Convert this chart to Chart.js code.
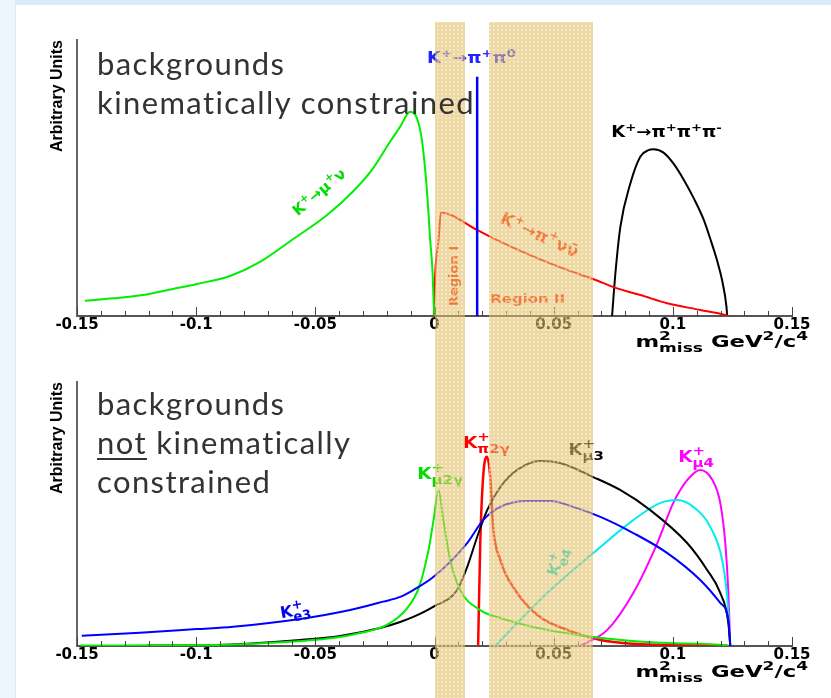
<!DOCTYPE html>
<html>
<head>
<meta charset="utf-8">
<script src="https://cdn.jsdelivr.net/npm/chart.js@4.4.1/dist/chart.umd.min.js"></script>
<style>
  html, body { margin: 0; padding: 0; background: #fff; }
  #page { position: relative; width: 831px; height: 698px; overflow: hidden; background: #fff; }
  .edgeTop { position: absolute; left: 0; top: 0; width: 831px; height: 5px; background: #d9ecfa; }
  .edgeLeft { position: absolute; left: 0; top: 0; width: 15px; height: 698px; background: #edf5fd; border-right: 1px solid #dde9f6; }
  canvas { position: absolute; left: 0; }
  #topChart { top: 0; }
  #bottomChart { top: 340px; }
  #bands { top: 0; pointer-events: none; }
  .note { position: absolute; left: 97px; font-family: Lato, sans-serif; font-size: 31px; line-height: 39px; color: #333; letter-spacing: 1.4px; }
  .note u { text-decoration-thickness: 2px; text-underline-offset: 4px; }
</style>
</head>
<body>
<div id="page">
  <div class="edgeTop"></div>
  <div class="edgeLeft"></div>
  <canvas id="topChart" width="831" height="360"></canvas>
  <canvas id="bottomChart" width="831" height="358"></canvas>
  <canvas id="bands" width="831" height="698"></canvas>
  <div class="note" style="top:44px">backgrounds<br>kinematically constrained</div>
  <div class="note" style="top:384px">backgrounds<br><u>not</u> kinematically<br>constrained</div>
</div>
<script>
// axis
const tickLabels = ['-0.15', '-0.1', '-0.05', '0', '0.05', '0.1', '0.15']
const regionI = [0.0003, 0.0128]
const regionII = [0.023, 0.0665]

// top panel : [m2miss, arbitrary units]
const kMuNu = [[-0.1467, 0.055], [-0.1349, 0.064], [-0.1223, 0.076], [-0.1097, 0.098], [-0.0996, 0.116], [-0.0858, 0.145], [-0.0732, 0.196], [-0.0594, 0.278], [-0.0452, 0.365], [-0.0341, 0.452], [-0.0258, 0.535], [-0.0186, 0.632], [-0.0144, 0.686], [-0.0102, 0.74], [-0.0074, 0.717], [-0.0053, 0.638], [-0.0032, 0.457], [-0.0018, 0.275], [-0.0008, 0.156], [-0.0004, 0.058], [0, 0]]
const kPiPi0 = [[0.0179, 0], [0.0179, 0.867]]
const kPiNuNu = [[-0.0003, 0], [0.0003, 0.156], [0.0017, 0.275], [0.0027, 0.374], [0.0178, 0.312], [0.0234, 0.287], [0.0416, 0.215], [0.0556, 0.167], [0.0668, 0.133], [0.0766, 0.1], [0.0864, 0.076], [0.0976, 0.046], [0.1115, 0.022], [0.122, 0.004], [0.1233, 0]]
const k3Pi = [[0.0745, 0], [0.0759, 0.155], [0.078, 0.324], [0.0822, 0.481], [0.0864, 0.578], [0.0898, 0.601], [0.0919, 0.604], [0.0961, 0.592], [0.1003, 0.552], [0.1045, 0.495], [0.1087, 0.428], [0.1129, 0.35], [0.1157, 0.28], [0.1186, 0.2], [0.1207, 0.128], [0.1225, 0.034], [0.1228, 0]]

// bottom panel
const kE3 = [[-0.148, 0.039], [-0.1236, 0.05], [-0.0997, 0.064], [-0.0845, 0.073], [-0.0564, 0.102], [-0.0354, 0.136], [-0.0215, 0.168], [-0.0144, 0.186], [-0.0089, 0.212], [-0.0005, 0.261], [0.0137, 0.39], [0.0204, 0.477], [0.0276, 0.527], [0.0389, 0.549], [0.0486, 0.549], [0.0582, 0.527], [0.0696, 0.489], [0.0834, 0.428], [0.0977, 0.352], [0.1115, 0.25], [0.1199, 0.163], [0.1233, 0.098], [0.1241, 0]]
const kMu3 = [[-0.1207, 0.002], [-0.0914, 0.004], [-0.0564, 0.023], [-0.0396, 0.038], [-0.0228, 0.068], [-0.0144, 0.091], [-0.0089, 0.11], [-0.0004, 0.149], [0.0095, 0.212], [0.0137, 0.299], [0.0179, 0.413], [0.0221, 0.515], [0.0276, 0.602], [0.0347, 0.667], [0.0443, 0.701], [0.0527, 0.693], [0.0666, 0.64], [0.0779, 0.591], [0.0905, 0.515], [0.106, 0.39], [0.1144, 0.288], [0.1199, 0.201], [0.1233, 0.087], [0.1241, 0]]
const kMu2G = [[-0.1487, 0.002], [-0.0913, 0.004], [-0.0703, 0.011], [-0.0426, 0.03], [-0.0312, 0.049], [-0.02, 0.08], [-0.0116, 0.142], [-0.0066, 0.22], [-0.0025, 0.364], [-0.0004, 0.477], [0.0017, 0.591], [0.0037, 0.477], [0.0066, 0.326], [0.0108, 0.212], [0.0192, 0.136], [0.0276, 0.106], [0.0414, 0.072], [0.0666, 0.034], [0.0976, 0.011], [0.1228, 0.002], [0.1233, 0]]
const kPi2G = [[0.0183, 0], [0.0192, 0.39], [0.0204, 0.64], [0.022, 0.717], [0.0234, 0.64], [0.0246, 0.451], [0.0276, 0.326], [0.0347, 0.201], [0.0443, 0.11], [0.0557, 0.061], [0.0696, 0.023], [0.0976, 0.004], [0.1228, 0.001], [0.1233, 0]]
const kE4 = [[0.0255, 0], [0.0347, 0.087], [0.0486, 0.212], [0.0666, 0.352], [0.0834, 0.477], [0.0948, 0.542], [0.1019, 0.553], [0.1086, 0.527], [0.1157, 0.451], [0.1207, 0.326], [0.1228, 0.186], [0.1241, 0]]
const kMu4 = [[0.0612, 0], [0.0725, 0.061], [0.0834, 0.201], [0.0935, 0.39], [0.1002, 0.542], [0.1061, 0.629], [0.1115, 0.667], [0.1166, 0.629], [0.1199, 0.542], [0.122, 0.39], [0.1233, 0.201], [0.1241, 0]]

const FAM = '"DejaVu Sans", sans-serif'
const xTitle = [['m', 'n'], ['2', 'up'], ['miss', 'sub'], [' GeV', 'n'], ['2', 'sup'], ['/c', 'n'], ['4', 'sup']]

// text with super/subscripts, drawn straight on the canvas
function drawRich(ctx, parts, x, y, o) {
  const size = o.size || 15
  const small = Math.round(size * (o.small || 0.72))
  const items = []
  let cx = 0
  let hold = 0
  for (const [t, k] of parts) {
    if (hold && k !== 'sub') { cx += hold; hold = 0 }
    const fs = k === 'n' ? size : small
    ctx.font = `bold ${fs}px ${FAM}`
    const w = ctx.measureText(t).width
    const dy = (k === 'sup' || k === 'up') ? -size * 0.42 : k === 'sub' ? size * 0.32 : 0
    items.push({ t, fs, px: cx, dy })
    if (k === 'up') hold = w
    else if (k === 'sub' && hold) { cx += Math.max(w, hold); hold = 0 }
    else cx += w
  }
  cx += hold
  const off = o.align === 'center' ? -cx / 2 : o.align === 'right' ? -cx : 0
  ctx.save()
  ctx.translate(x, y)
  if (o.rot) ctx.rotate(o.rot * Math.PI / 180)
  ctx.scale(o.sx || 1, 1)
  ctx.fillStyle = o.color || '#000'
  ctx.textAlign = 'left'
  ctx.textBaseline = 'alphabetic'
  for (const it of items) {
    ctx.font = `bold ${it.fs}px ${FAM}`
    ctx.fillText(it.t, off + it.px, it.dy)
  }
  ctx.restore()
}

// ROOT style frame: ticks inside, axis title, labels
const frame = {
  id: 'frame',
  afterDraw(chart, args, opts) {
    const { ctx, chartArea: a, scales: { x, y } } = chart
    ctx.save()
    ctx.strokeStyle = '#444'
    ctx.lineWidth = 1
    for (let i = -15; i <= 15; i++) {
      const px = Math.round(x.getPixelForValue(i / 100)) + 0.5
      const len = i % 5 === 0 ? 9 : 5
      ctx.beginPath()
      ctx.moveTo(px, a.bottom)
      ctx.lineTo(px, a.bottom - len)
      ctx.stroke()
    }
    ctx.restore()
    drawRich(ctx, xTitle, a.right + 16, a.bottom + 31, { size: 16, align: 'right', sx: 1.42 })
    for (const n of opts.notes) {
      drawRich(ctx, n.parts, x.getPixelForValue(n.x), y.getPixelForValue(n.y), n)
    }
  }
}

const line = (pts, color, width) => ({
  data: pts.map(p => ({ x: p[0], y: p[1] })),
  borderColor: color,
  borderWidth: width || 2,
  pointRadius: 0,
  fill: false,
  cubicInterpolationMode: 'monotone'
})

const panelOptions = (padding, notes) => ({
  responsive: false,
  animation: false,
  events: [],
  layout: { padding },
  plugins: { legend: { display: false }, tooltip: { enabled: false }, frame: { notes } },
  scales: {
    x: {
      type: 'linear',
      min: -0.15,
      max: 0.15,
      ticks: {
        stepSize: 0.05,
        padding: 0,
        color: '#000',
        maxRotation: 0,
        autoSkip: false,
        font: { family: 'DejaVu Sans', size: 15, weight: 'bold' },
        callback: (v, i) => tickLabels[i]
      },
      grid: { display: false, drawTicks: false },
      border: { display: true, color: '#555', width: 2 },
      afterFit: s => { s.height = 30 }
    },
    y: {
      min: 0,
      max: 1,
      ticks: { display: false },
      grid: { display: false, drawTicks: false },
      border: { display: true, color: '#666', width: 2 },
      title: {
        display: true,
        text: 'Arbitrary Units',
        align: 'end',
        color: '#000',
        font: { family: '"Liberation Sans", Arial, sans-serif', size: 16, weight: 'bold' },
        padding: { top: 11, bottom: 0 }
      },
      afterFit: s => { s.width = 40 }
    }
  }
})

const topNotes = [
  { parts: [['K', 'n'], ['+', 'sup'], ['\u2192\u03C0', 'n'], ['+', 'sup'], ['\u03C0', 'n'], ['0', 'sup']], x: -0.0031, y: 0.917, color: '#2222ff', size: 15, sx: 1.2 },
  { parts: [['K', 'n'], ['+', 'sup'], ['\u2192\u03C0', 'n'], ['+', 'sup'], ['\u03C0', 'n'], ['+', 'sup'], ['\u03C0', 'n'], ['-', 'sup']], x: 0.0742, y: 0.649, color: '#000', size: 15, sx: 1.2 },
  { parts: [['K', 'n'], ['+', 'sup'], ['\u2192\u03BC', 'n'], ['+', 'sup'], ['\u03BD', 'n']], x: -0.0471, y: 0.435, color: '#00dd00', size: 15, rot: -40, align: 'center' },
  { parts: [['K', 'n'], ['+', 'sup'], ['\u2192\u03C0', 'n'], ['+', 'sup'], ['\u03BD\u03BD\u0304', 'n']], x: 0.0431, y: 0.275, color: '#ff2000', size: 17, rot: 25, align: 'center' },
  { parts: [['Region I', 'n']], x: 0.0099, y: 0.145, color: '#ff2000', size: 13, rot: -90, align: 'center' },
  { parts: [['Region II', 'n']], x: 0.0391, y: 0.047, color: '#ff2000', size: 13, sx: 1.15, align: 'center' }
]

const bottomNotes = [
  { parts: [['K', 'n'], ['+', 'up'], ['\u03BC2\u03B3', 'sub']], x: -0.0072, y: 0.633, color: '#00dd00', size: 16, small: 0.8, sx: 1.15 },
  { parts: [['K', 'n'], ['+', 'up'], ['\u03C02\u03B3', 'sub']], x: 0.012, y: 0.75, color: '#ff0000', size: 16, small: 0.8, sx: 1.15 },
  { parts: [['K', 'n'], ['+', 'up'], ['\u03BC3', 'sub']], x: 0.0561, y: 0.723, color: '#000', size: 16, small: 0.8, sx: 1.15 },
  { parts: [['K', 'n'], ['+', 'up'], ['\u03BC4', 'sub']], x: 0.1023, y: 0.697, color: '#ff00ff', size: 16, small: 0.8, sx: 1.15 },
  { parts: [['K', 'n'], ['+', 'up'], ['e4', 'sub']], x: 0.0536, y: 0.314, color: '#00e0e0', size: 16, small: 0.8, rot: -70, align: 'center' },
  { parts: [['K', 'n'], ['+', 'up'], ['e3', 'sub']], x: -0.0581, y: 0.115, color: '#0000ee', size: 16, small: 0.8, rot: -10, align: 'center' }
]

const topChart = new Chart(document.getElementById('topChart'), {
  type: 'line',
  data: {
    datasets: [
      line(kMuNu, '#00ee00'),
      Object.assign(line(kPiPi0, '#0000ff', 2.5), { cubicInterpolationMode: 'default', tension: 0 }),
      line(kPiNuNu, '#ff0000'),
      line(k3Pi, '#000000')
    ]
  },
  options: panelOptions({ left: 37, right: 39, top: 40, bottom: 14 }, topNotes),
  plugins: [frame]
})

const bottomChart = new Chart(document.getElementById('bottomChart'), {
  type: 'line',
  data: {
    datasets: [
      line(kE3, '#0000ff'),
      line(kMu2G, '#00ee00'),
      line(kMu3, '#000000'),
      line(kE4, '#00eeee'),
      line(kMu4, '#ff00ff'),
      line(kPi2G, '#ff0000', 2.5)
    ]
  },
  options: panelOptions({ left: 37, right: 39, top: 42, bottom: 22 }, bottomNotes),
  plugins: [frame]
})

// the two shaded signal regions run over both panels
const bands = document.getElementById('bands').getContext('2d')
const tile = document.createElement('canvas')
tile.width = 4
tile.height = 4
const t = tile.getContext('2d')
t.fillStyle = 'rgba(225,190,100,0.58)'
t.fillRect(0, 0, 4, 4)
t.fillStyle = 'rgba(255,255,255,0.4)'
t.fillRect(1, 1, 2, 2)
bands.fillStyle = bands.createPattern(tile, 'repeat')
const sx = bottomChart.scales.x
for (const [a, b] of [regionI, regionII]) {
  const x0 = Math.round(sx.getPixelForValue(a))
  const x1 = Math.round(sx.getPixelForValue(b))
  bands.fillRect(x0, 22, x1 - x0, 698 - 22)
}
</script>
</body>
</html>
